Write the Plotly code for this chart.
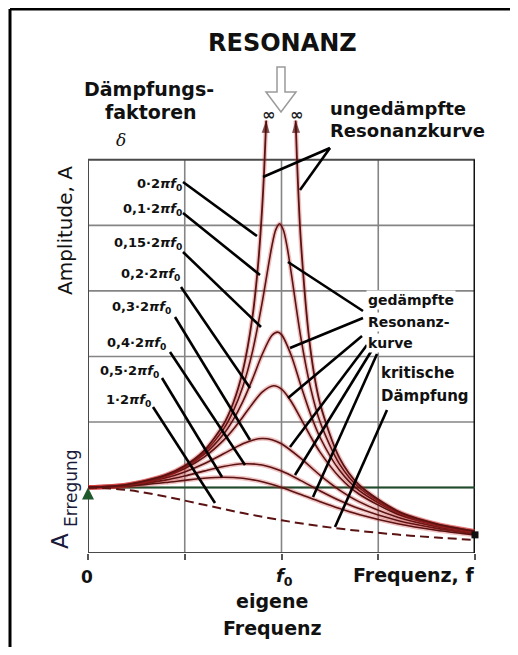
import plotly.graph_objects as go

# ---------------- data (frequency ratio f/f0, amplitude in units of A_Erregung) -------------
EXCITATION = 1.0
F_RANGE = [0.0, 2.0]
X_GRID = [0.5, 1.0, 1.5]
Y_GRID = [1, 2, 3, 4, 5]
Y_TOP = 6
X_TICKS = [0, 0.5, 1.0, 1.5, 2.0]

# undamped (delta = 0) : two branches going to infinity
r_d0_left = [0, 0.2, 0.4, 0.5, 0.6, 0.7, 0.75, 0.8, 0.85, 0.88, 0.9, 0.91, 0.921]
a_d0_left = [1, 1.042, 1.190, 1.333, 1.563, 1.961, 2.286, 2.778, 3.604, 4.433, 5.263, 5.817, 6.6]
r_d0_right = [2.0, 1.8, 1.6, 1.4, 1.3, 1.2, 1.15, 1.1, 1.08, 1.073]
a_d0_right = [0.333, 0.446, 0.641, 1.042, 1.449, 2.273, 3.101, 4.762, 6.01, 6.6]

r_d010 = [0, 0.2, 0.4, 0.5, 0.6, 0.7, 0.75, 0.8, 0.85, 0.9, 0.95, 0.97, 0.99, 1.01, 1.03, 1.05, 1.1, 1.15, 1.2, 1.3, 1.4, 1.6, 1.8, 2.0]
a_d010 = [1, 1.041, 1.185, 1.322, 1.536, 1.891, 2.162, 2.538, 3.073, 3.821, 4.682, 4.931, 5.025, 4.926, 4.655, 4.279, 3.288, 2.525, 1.995, 1.356, 1.0, 0.628, 0.441, 0.330]

r_d015 = [0, 0.2, 0.4, 0.5, 0.6, 0.7, 0.75, 0.8, 0.85, 0.9, 0.95, 0.98, 1.0, 1.05, 1.1, 1.15, 1.2, 1.3, 1.4, 1.6, 1.8, 2.0]
a_d015 = [1, 1.040, 1.179, 1.307, 1.504, 1.813, 2.033, 2.311, 2.654, 3.029, 3.320, 3.371, 3.333, 3.019, 2.557, 2.118, 1.759, 1.262, 0.954, 0.613, 0.434, 0.327]

r_d020 = [0, 0.2, 0.4, 0.5, 0.6, 0.7, 0.75, 0.8, 0.85, 0.9, 0.96, 1.0, 1.05, 1.1, 1.15, 1.2, 1.3, 1.4, 1.6, 1.8, 2.0]
a_d020 = [1, 1.038, 1.169, 1.288, 1.463, 1.719, 1.885, 2.076, 2.279, 2.457, 2.552, 2.5, 2.313, 2.051, 1.780, 1.536, 1.157, 0.900, 0.593, 0.425, 0.322]

r_d030 = [0, 0.2, 0.4, 0.5, 0.6, 0.7, 0.8, 0.85, 0.9, 0.95, 1.0, 1.1, 1.2, 1.3, 1.4, 1.6, 1.8, 2.0]
a_d030 = [1, 1.034, 1.145, 1.238, 1.362, 1.514, 1.667, 1.722, 1.747, 1.729, 1.667, 1.444, 1.185, 0.960, 0.784, 0.546, 0.402, 0.309]

r_d040 = [0, 0.2, 0.4, 0.5, 0.6, 0.7, 0.8, 0.9, 1.0, 1.1, 1.2, 1.3, 1.4, 1.6, 1.8, 2.0]
a_d040 = [1, 1.027, 1.112, 1.176, 1.25, 1.320, 1.362, 1.343, 1.25, 1.105, 0.947, 0.801, 0.678, 0.496, 0.376, 0.294]

r_d050 = [0, 0.2, 0.4, 0.5, 0.6, 0.7, 0.8, 0.9, 1.0, 1.1, 1.2, 1.3, 1.4, 1.6, 1.8, 2.0]
a_d050 = [1, 1.020, 1.075, 1.109, 1.140, 1.155, 1.140, 1.087, 1.0, 0.893, 0.782, 0.679, 0.589, 0.447, 0.348, 0.277]

# critical damping (delta = 1*2*pi*f0)
r_d100 = [0, 0.2, 0.4, 0.6, 0.8, 1.0, 1.2, 1.4, 1.6, 1.8, 2.0]
a_d100 = [1, 0.962, 0.862, 0.735, 0.610, 0.5, 0.410, 0.338, 0.281, 0.236, 0.2]

DAMPING_FACTORS = ["0", "0,1", "0,15", "0,2", "0,3", "0,4", "0,5", "1"]

# ---------------- layout geometry (reference-image pixels) ----------------
W, H = 518, 655
OFF = 8                       # default page margin of the html body
FW, FH = W - 2 * OFF, H - 2 * OFF
L, R, T, B = 88, 475, 114, 553
Y_RANGE = [0, 6.7]


def ax(x):
    return (x - L) / (R - L)


def ay(y):
    return (B - y) / (B - T)


CURVE = "#5a1212"
HALO = "rgba(200,35,35,0.28)"

fig = go.Figure()

# excitation line
fig.add_trace(go.Scatter(x=F_RANGE, y=[EXCITATION, EXCITATION], mode="lines",
                         line=dict(color="#1f4d2c", width=2.2), hoverinfo="skip"))

damped = [(r_d010, a_d010), (r_d015, a_d015), (r_d020, a_d020),
          (r_d030, a_d030), (r_d040, a_d040), (r_d050, a_d050)]
for rr, aa in damped:
    fig.add_trace(go.Scatter(x=rr, y=aa, mode="lines",
                             line=dict(color=HALO, width=4.5, shape="spline", smoothing=0.8),
                             hoverinfo="skip"))
    fig.add_trace(go.Scatter(x=rr, y=aa, mode="lines",
                             line=dict(color=CURVE, width=1.6, shape="spline", smoothing=0.8),
                             hoverinfo="skip"))

for rr, aa in [(r_d0_left, a_d0_left), (r_d0_right, a_d0_right)]:
    fig.add_trace(go.Scatter(x=rr, y=aa, mode="lines",
                             line=dict(color=HALO, width=4.5, shape="spline", smoothing=0.8),
                             hoverinfo="skip"))
    sizes = [0] * (len(rr) - 1) + [13]
    fig.add_trace(go.Scatter(x=rr, y=aa, mode="lines+markers",
                             line=dict(color=CURVE, width=1.8, shape="spline", smoothing=0.8),
                             marker=dict(symbol="arrow", angleref="previous", size=sizes,
                                         color="#4a0d0d", line=dict(width=0)),
                             cliponaxis=False, hoverinfo="skip"))

# critical damping dashed
fig.add_trace(go.Scatter(x=r_d100, y=a_d100, mode="lines",
                         line=dict(color=CURVE, width=2, dash="9px,5px", shape="spline"),
                         hoverinfo="skip"))

# excitation marker and end point
fig.add_trace(go.Scatter(x=[F_RANGE[0]], y=[EXCITATION], mode="markers",
                         marker=dict(symbol="arrow-up", size=12, color="#1f5a2c"),
                         cliponaxis=False, hoverinfo="skip"))
fig.add_trace(go.Scatter(x=[r_d050[-1]], y=[a_d050[-1]], mode="markers",
                         marker=dict(symbol="square", size=7, color="#111"),
                         cliponaxis=False, hoverinfo="skip"))

shapes = []
GRID = dict(color="#858585", width=1.6)
for gx in X_GRID:
    shapes.append(dict(type="line", xref="x", yref="y", x0=gx, x1=gx, y0=0, y1=Y_TOP,
                       line=GRID, layer="below"))
for gy in Y_GRID:
    shapes.append(dict(type="line", xref="x", yref="y", x0=F_RANGE[0], x1=F_RANGE[1], y0=gy, y1=gy,
                       line=GRID, layer="below"))
shapes.append(dict(type="rect", xref="x", yref="y", x0=F_RANGE[0], x1=F_RANGE[1], y0=0, y1=Y_TOP,
                   line=dict(color="#4a4a4a", width=2), layer="below"))
shapes.append(dict(type="line", xref="x", yref="y", x0=F_RANGE[1], x1=F_RANGE[1], y0=0, y1=Y_TOP,
                   line=dict(color="#111", width=3), layer="below"))

# outer picture border (top + left)
shapes.append(dict(type="line", xref="paper", yref="paper", x0=ax(10), x1=ax(520), y0=ay(9), y1=ay(9),
                   line=dict(color="#000", width=3)))
shapes.append(dict(type="line", xref="paper", yref="paper", x0=ax(10), x1=ax(10), y0=ay(9), y1=ay(660),
                   line=dict(color="#000", width=3)))

# hollow arrow pointing at resonance
arrow_pts = [(277, 67), (285, 67), (285, 92), (296, 92), (281, 112), (266, 92), (277, 92)]
path = "M" + " L".join(f"{ax(x):.4f},{ay(y):.4f}" for x, y in arrow_pts) + " Z"
shapes.append(dict(type="path", xref="paper", yref="paper", path=path,
                   line=dict(color="#9a9a9a", width=1.5), fillcolor="white"))

LEADER = dict(color="#000", width=2.6)
leaders = [
    ((183, 182), (257, 236)), ((183, 213), (260, 275)), ((183, 252), (261, 327)),
    ((181, 287), (250, 388)), ((175, 317), (250, 440)), ((170, 352), (245, 465)),
    ((162, 378), (222, 477)), ((153, 407), (215, 503)),
    ((330, 148), (263, 177)), ((330, 148), (300, 190)),
    ((363, 311), (288, 262)), ((363, 318), (290, 348)), ((362, 336), (288, 398)),
    ((367, 345), (290, 447)), ((372, 350), (295, 475)), ((377, 354), (313, 497)),
    ((387, 410), (335, 527)),
]
for (x0, y0), (x1, y1) in leaders:
    shapes.append(dict(type="line", xref="paper", yref="paper", x0=ax(x0), y0=ay(y0),
                       x1=ax(x1), y1=ay(y1), line=LEADER, layer="above"))

ann = []
SANS = "DejaVu Sans"


def text(t, x, y, size, xanchor="center", family=SANS, color="#111", angle=0, bg=None):
    d = dict(text=t, x=ax(x), y=ay(y), xref="paper", yref="paper", showarrow=False,
             xanchor=xanchor, yanchor="middle", textangle=angle,
             font=dict(family=family, size=size, color=color))
    if bg:
        d["bgcolor"] = bg
    ann.append(d)


text("<b>RESONANZ</b>", 282, 43, 24)
text("<b>Dämpfungs-</b>", 149, 89, 19)
text("<b>faktoren</b>", 151, 112, 19)
text("<i>δ</i>", 121, 140, 17, family="DejaVu Serif")
text("<b>∞</b>", 268, 114, 16, color="#222")
text("<b>∞</b>", 296, 114, 16, color="#222")
text("<b>ungedämpfte</b>", 328, 108, 18, xanchor="left")
text("<b>Resonanzkurve</b>", 328, 131, 18, xanchor="left")
text("<b>gedämpfte</b>", 366, 300, 14, xanchor="left", bg="white")
text("<b>Resonanz-</b>", 366, 322, 14, xanchor="left", bg="white")
text("<b>kurve</b>", 366, 343, 14, xanchor="left", bg="white")
text("<b>kritische</b>", 379, 373, 15, xanchor="left", bg="white")
text("<b>Dämpfung</b>", 379, 396, 15, xanchor="left", bg="white")

label_right = [184, 184, 184, 182, 173, 168, 161, 153]
label_y = [184, 209, 243, 274, 307, 343, 371, 400]
for f, xr, yy in zip(DAMPING_FACTORS, label_right, label_y):
    text(f"<b>{f}·2<i>πf</i><sub>0</sub></b>", xr, yy, 13, xanchor="right")

text("Amplitude, A", 65, 231, 20, angle=-90)
text("A", 60, 541, 23, angle=-90, color="#1a1a3a")
text("Erregung", 71, 488, 17, angle=-90, color="#1a1a3a")

text("<b>0</b>", 87, 577, 17)
text("<b><i>f</i><sub>0</sub></b>", 284, 577, 18)
text("<b>Frequenz, f</b>", 476, 575, 19, xanchor="right")
text("<b>eigene</b>", 272, 601, 19)
text("<b>Frequenz</b>", 272, 628, 19)

fig.update_layout(
    width=FW, height=FH, autosize=False,
    margin=dict(l=L - OFF, r=FW - (R - OFF), t=T - OFF, b=FH - (B - OFF), pad=0),
    paper_bgcolor="white", plot_bgcolor="white",
    showlegend=False,
    xaxis=dict(range=F_RANGE, showgrid=False, zeroline=False, showline=False,
               tickvals=X_TICKS, showticklabels=False, ticks="outside", ticklen=6,
               tickwidth=1.5, tickcolor="#555", fixedrange=True),
    yaxis=dict(range=Y_RANGE, showgrid=False, zeroline=False, showline=False,
               showticklabels=False, ticks="", fixedrange=True),
    shapes=shapes, annotations=ann,
)

fig.write_html("out.html", config={"displayModeBar": False})
